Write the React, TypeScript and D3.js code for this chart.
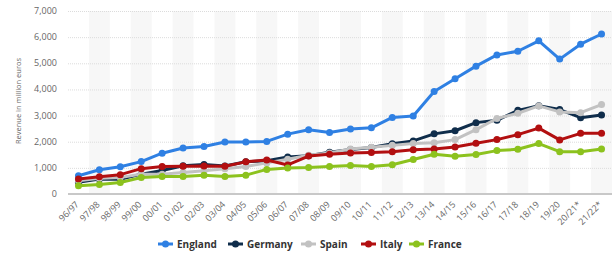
import React from "react";
import * as d3 from "d3";

const categories = ["96/97","97/98","98/99","99/00","00/01","01/02","02/03","03/04","04/05","05/06","06/07","07/08","08/09","09/10","10/11","11/12","12/13","13/14","14/15","15/16","16/17","17/18","18/19","19/20","20/21*","21/22*"];
const england = [700, 925, 1040, 1240, 1560, 1760, 1820, 1990, 1990, 2010, 2290, 2460, 2350, 2490, 2530, 2930, 2980, 3920, 4410, 4890, 5320, 5460, 5860, 5160, 5730, 6120];
const germany = [450, 570, 565, 760, 900, 1080, 1130, 1070, 1230, 1275, 1420, 1460, 1600, 1700, 1780, 1920, 2030, 2300, 2420, 2730, 2820, 3200, 3380, 3230, 2920, 3020];
const spain = [510, 600, 630, 760, 760, 820, 890, 970, 1050, 1190, 1330, 1480, 1570, 1720, 1790, 1860, 1930, 1960, 2080, 2460, 2890, 3090, 3370, 3140, 3110, 3420];
const italy = [570, 660, 740, 970, 1050, 1060, 1070, 1060, 1230, 1300, 1110, 1450, 1520, 1570, 1590, 1620, 1690, 1720, 1800, 1940, 2080, 2270, 2520, 2070, 2320, 2320];
const france = [320, 360, 440, 630, 670, 670, 720, 670, 720, 940, 990, 1010, 1050, 1090, 1050, 1120, 1320, 1520, 1440, 1510, 1660, 1710, 1930, 1620, 1620, 1720];
const yTicks = [0, 1000, 2000, 3000, 4000, 5000, 6000, 7000];

const seriesNames = ["England", "Germany", "Spain", "Italy", "France"];
const seriesValues = [england, germany, spain, italy, france];
const seriesColors = ["#2f80e3", "#0f2d4b", "#c2c2c2", "#b20f10", "#8cc21e"];

const W = 615, H = 253;
const left = 68, right = 612, top = 11, bottom = 194;
const FONT = "'Open Sans', 'DejaVu Sans', sans-serif";

export default function App() {
  const x = d3.scaleBand<string>().domain(categories).range([left, right]);
  const y = d3.scaleLinear().domain([0, 7000]).range([bottom, top]);
  const cx = (c: string) => (x(c) as number) + x.bandwidth() / 2;
  const fmt = d3.format(",");
  const line = (vals: number[]) =>
    d3.line<number>().x((_, i) => cx(categories[i])).y((v) => y(v))(vals) as string;

  const legendX = [158, 228, 301, 361, 409];

  return (
    <svg width={W} height={H} style={{ position: "absolute", left: 0, top: 0, background: "#fff" }} fontFamily={FONT}>
      {categories.map((c, i) =>
        i % 2 === 1 ? (
          <rect key={c} x={x(c)} y={top} width={x.bandwidth()} height={bottom - top} fill="#f7f7f7" />
        ) : null
      )}
      {yTicks.filter((t) => t > 0).map((t) => (
        <line key={t} x1={left} x2={right} y1={y(t) + 0.5} y2={y(t) + 0.5} stroke="#dcdcdc" strokeWidth={1} strokeDasharray="1,1" />
      ))}
      <line x1={left} x2={right} y1={bottom} y2={bottom} stroke="#c8c8c8" strokeWidth={2} />
      {yTicks.map((t) => (
        <text key={t} x={57} y={y(t) + 3} textAnchor="end" fontSize={9} fill="#666">{fmt(t)}</text>
      ))}
      <text transform={`translate(21,101) rotate(-90)`} textAnchor="middle" fontSize={7.5} fill="#666">Revenue in million euros</text>
      {categories.map((c) => (
        <text key={c} transform={`translate(${cx(c) + 1},${205}) rotate(-45)`} textAnchor="end" fontSize={9} fill="#666">{c}</text>
      ))}
      {seriesValues.map((vals, si) => (
        <g key={seriesNames[si]}>
          <path d={line(vals)} fill="none" stroke={seriesColors[si]} strokeWidth={3} strokeLinejoin="round" />
          {vals.map((v, i) => (
            <circle key={i} cx={cx(categories[i])} cy={y(v)} r={3.5} fill={seriesColors[si]} />
          ))}
        </g>
      ))}
      {seriesNames.map((n, si) => (
        <g key={n} transform={`translate(${legendX[si]},244)`}>
          <line x1={0} x2={15} y1={0} y2={0} stroke={seriesColors[si]} strokeWidth={3} />
          <circle cx={7.5} cy={0} r={3.5} fill={seriesColors[si]} />
          <text x={19} y={3.5} fontSize={10} fontWeight="bold" fill="#333">{n}</text>
        </g>
      ))}
    </svg>
  );
}
